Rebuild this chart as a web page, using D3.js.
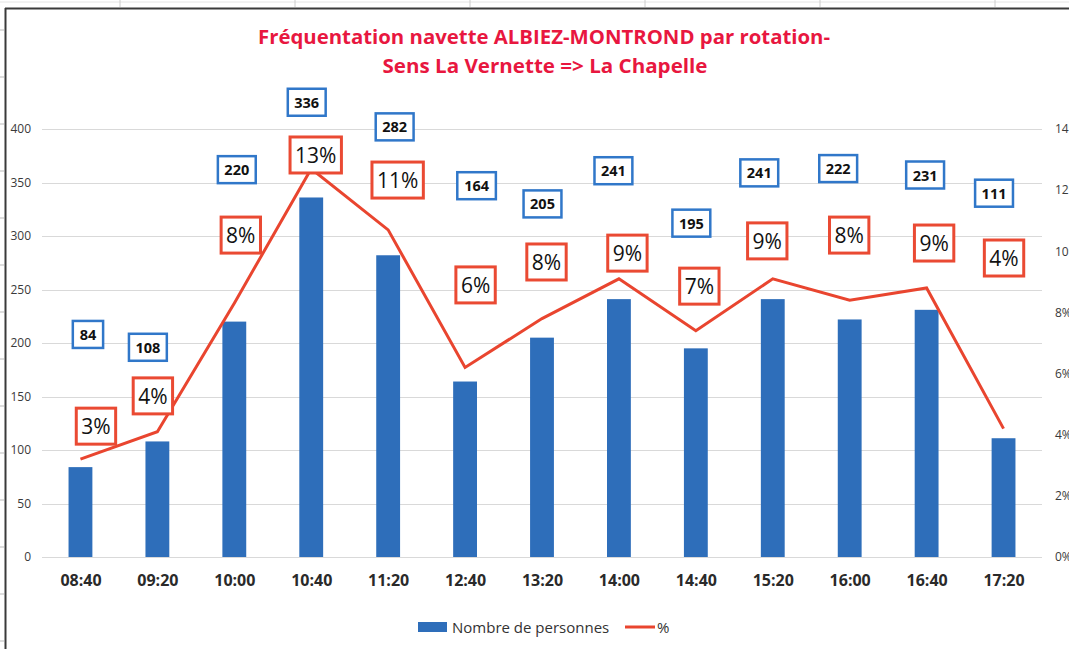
<!DOCTYPE html>
<html>
<head>
<meta charset="utf-8">
<script src="https://cdn.jsdelivr.net/npm/d3@7"></script>
<style>
  html, body { margin: 0; padding: 0; background: #fff; overflow: hidden; }
  svg { display: block; }
</style>
</head>
<body>
<svg id="chart" width="1069" height="649"></svg>
<script>
// ---- data ----
const categories = ["08:40","09:20","10:00","10:40","11:20","12:40","13:20","14:00","14:40","15:20","16:00","16:40","17:20"];
const persons    = [84, 108, 220, 336, 282, 164, 205, 241, 195, 241, 222, 231, 111];
const percent    = [3.2, 4.1, 8.3, 12.7, 10.7, 6.2, 7.8, 9.1, 7.4, 9.1, 8.4, 8.8, 4.2];
const pctLabels  = ["3%","4%","8%","13%","11%","6%","8%","9%","7%","9%","8%","9%","4%"];
const leftTicks  = [0, 50, 100, 150, 200, 250, 300, 350, 400];
const rightTicks = [0, 2, 4, 6, 8, 10, 12, 14];
const titleLines = ["Fréquentation navette ALBIEZ-MONTROND par rotation-", "Sens La Vernette => La Chapelle"];
const seriesNames = ["Nombre de personnes", "%"];

// ---- label layout (hand-placed labels in the original) ----
const countLabelDx = [7.5, -9.5, 2.5, -4.5, 6.5, 11.5, 0.5, -5.5, -4.5, -13.5, -11.5, -1.5, -9.5];
const countLabelAt = [208, 196, 362, 425, 402, 347, 330, 361, 312, 359, 363, 357, 340];
const pctLabelDx   = [15.5, -4.5, 6.5, 4.5, 9.5, 10.5, 4.5, 8.5, 3.5, -5.5, -0.5, 7.5, 0.5];
const pctLabelAt   = [4.28, 5.27, 10.53, 13.15, 12.33, 8.9, 9.65, 9.94, 8.86, 10.34, 10.53, 10.27, 9.78];

const svg = d3.select("#chart");
const W = 1069, H = 649;
const plot = { left: 42, right: 1042, top: 129, bottom: 557 };

const BAR = "#2E6EBA", LINE = "#E9452F", TITLE = "#E8173F", BOXBLUE = "#3077C9", BOXRED = "#EA4A33";

// background: faint spreadsheet lines outside frame
const bg = svg.append("g");
bg.append("line").attr("x1", 0).attr("x2", W).attr("y1", 2).attr("y2", 2).attr("stroke", "#e4e4e4");
for (let x = 120; x < W; x += 175) bg.append("line").attr("x1", x).attr("x2", x).attr("y1", 0).attr("y2", 7).attr("stroke", "#ccc");
for (let y = 30; y < H; y += 47) bg.append("line").attr("x1", 0).attr("x2", 4).attr("y1", y).attr("y2", y).attr("stroke", "#bbb");
// frame
svg.append("line").attr("x1", 5).attr("x2", W).attr("y1", 8.5).attr("y2", 8.5).attr("stroke", "#3a3a3a").attr("stroke-width", 2);
svg.append("line").attr("x1", 5.5).attr("x2", 5.5).attr("y1", 8).attr("y2", H).attr("stroke", "#3a3a3a").attr("stroke-width", 2);

// scales
const x = d3.scalePoint().domain(categories).range([plot.left, plot.right]).padding(0.5);
const step = x.step();
const barW = step * 0.31;
const yL = d3.scaleLinear().domain([0, 400]).range([plot.bottom, plot.top]);
const yR = d3.scaleLinear().domain([0, 14]).range([plot.bottom, plot.top]);

// gridlines
svg.append("g").selectAll("line").data(leftTicks).join("line")
  .attr("x1", plot.left).attr("x2", plot.right)
  .attr("y1", d => Math.round(yL(d)) + 0.5).attr("y2", d => Math.round(yL(d)) + 0.5)
  .attr("stroke", "#d9d9d9").attr("stroke-width", 1);

// left axis
const axL = svg.append("g").attr("transform", "translate(31,0)")
  .call(d3.axisLeft(yL).tickValues(leftTicks).tickSize(0).tickPadding(0));
axL.select(".domain").remove();
axL.selectAll("text").attr("font-family", "'Open Sans', sans-serif").attr("font-size", 12).attr("fill", "#3a3a3a");

// right axis (cut off by the page edge, as in the original)
const axR = svg.append("g").attr("transform", "translate(1055,0)")
  .call(d3.axisRight(yR).tickValues(rightTicks).tickSize(0).tickPadding(0).tickFormat(d => d + "%"));
axR.select(".domain").remove();
axR.selectAll("text").attr("font-family", "'Open Sans', sans-serif").attr("font-size", 12).attr("fill", "#3a3a3a");

// bottom axis labels
const axB = svg.append("g").attr("transform", `translate(0,${plot.bottom})`)
  .call(d3.axisBottom(x).tickSize(0).tickPadding(18));
axB.select(".domain").remove();
axB.selectAll("text").attr("font-family", "'Open Sans', sans-serif").attr("font-size", 16).attr("font-weight", "bold").attr("fill", "#2a2a2a");

// bars
svg.append("g").selectAll("rect").data(persons).join("rect")
  .attr("x", (d, i) => x(categories[i]) - barW / 2)
  .attr("width", barW)
  .attr("y", d => yL(d))
  .attr("height", d => yL(0) - yL(d))
  .attr("fill", BAR);

// line
const lineGen = d3.line().x((d, i) => x(categories[i])).y(d => yR(d));
svg.append("path").datum(percent).attr("d", lineGen)
  .attr("fill", "none").attr("stroke", LINE).attr("stroke-width", 3).attr("stroke-linejoin", "miter");

// boxed labels helper
function boxLabel(g, cx, cy, txt, opts) {
  const t = g.append("text").attr("x", cx).attr("y", cy)
    .attr("text-anchor", "middle").attr("dominant-baseline", "central")
    .attr("font-family", "'Open Sans', sans-serif").attr("font-size", opts.size)
    .attr("font-weight", opts.weight).attr("fill", "#111").text(txt);
  const bb = t.node().getBBox();
  const w = bb.width + 2 * opts.padX, h = opts.h;
  g.insert("rect", "text").attr("x", cx - w / 2).attr("y", cy - h / 2).attr("width", w).attr("height", h)
    .attr("fill", "#fff").attr("stroke", opts.stroke).attr("stroke-width", opts.sw);
}

const countG = svg.append("g");
persons.forEach((v, i) => {
  const g = countG.append("g");
  boxLabel(g, x(categories[i]) + countLabelDx[i], yL(countLabelAt[i]), String(v),
    { size: 14.5, weight: "bold", padX: 6.5, h: 27, stroke: BOXBLUE, sw: 2.5 });
});
const pctG = svg.append("g");
pctLabels.forEach((s, i) => {
  const g = pctG.append("g");
  boxLabel(g, x(categories[i]) + pctLabelDx[i], yR(pctLabelAt[i]), s,
    { size: 21, weight: "normal", padX: 5, h: 36, stroke: BOXRED, sw: 3 });
});

// title
const title = svg.append("g").attr("font-family", "'Open Sans', sans-serif").attr("font-weight", "bold")
  .attr("font-size", 20).attr("fill", TITLE).attr("text-anchor", "middle");
title.append("text").attr("x", 544).attr("y", 44).attr("textLength", 572).attr("lengthAdjust", "spacingAndGlyphs").text(titleLines[0]);
title.append("text").attr("x", 545).attr("y", 73).attr("textLength", 325).attr("lengthAdjust", "spacingAndGlyphs").text(titleLines[1]);

// legend
const lg = svg.append("g").attr("font-family", "'Open Sans', sans-serif").attr("font-size", 15).attr("fill", "#333");
lg.append("rect").attr("x", 418).attr("y", 622).attr("width", 29).attr("height", 10).attr("fill", BAR);
lg.append("text").attr("x", 452).attr("y", 627).attr("dominant-baseline", "central").text(seriesNames[0]);
lg.append("line").attr("x1", 625).attr("x2", 655).attr("y1", 627).attr("y2", 627).attr("stroke", LINE).attr("stroke-width", 3);
lg.append("text").attr("x", 657).attr("y", 627).attr("dominant-baseline", "central").text(seriesNames[1]);
</script>
</body>
</html>
